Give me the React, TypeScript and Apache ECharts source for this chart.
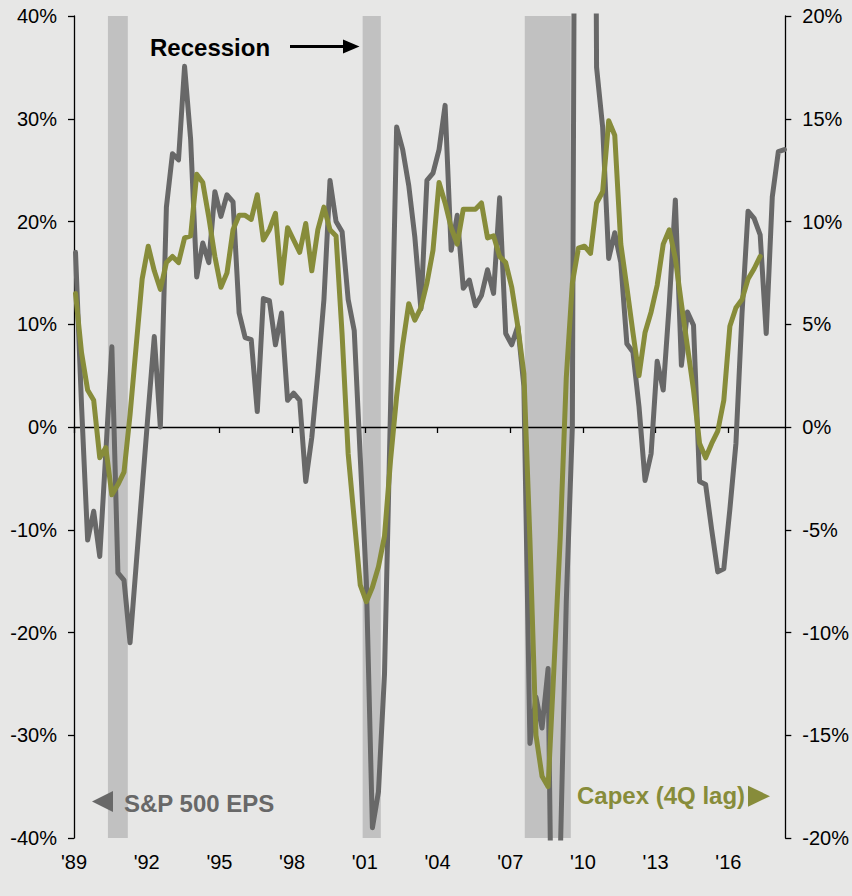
import React, { useEffect, useRef } from 'react';
import * as echarts from 'echarts';

// ---------- data ----------
const START_YEAR = 1989.0625; // first quarterly observation (position on the year axis)
const QUARTER = 0.25;

// S&P 500 EPS, y/y % (left axis) — quarterly from 1989
const epsGrowth = [
  17.0, 2, -11.0, -8.2, -12.6, -2.5, 7.8, -14.2, -14.9, -21,
  -13.5, -6, 1.5, 8.8, 0, 21.4, 26.6, 26, 35.1, 28,
  14.6, 17.9, 16, 22.9, 20.5, 22.6, 21.9, 11.1, 8.7, 8.5,
  1.5, 12.5, 12.3, 8, 11.1, 2.6, 3.3, 2.6, -5.3, -1,
  5.3, 12.4, 24, 20, 19, 12.4, 9.4, -3, -15, -39,
  -35.5, -24, 2, 29.2, 27, 23.5, 18.5, 11.5, 24, 24.7,
  27, 31.3, 17.2, 20.6, 13.5, 14.3, 11.8, 12.8, 15.3, 13,
  22.3, 9.1, 8, 9.8, 4, -30.8, -26.3, -29.3, -23.5, -70,
  -42, -17, 0, 150, 200, 150, 35, 29.2, 16.4, 18.9,
  16, 8.1, 7.3, 2, -5.2, -2.6, 6.4, 3.6, 12, 22.1,
  6, 11.2, 9.9, -5.3, -5.6, -10, -14.1, -13.8, -8, -1.6,
  11, 21, 20.3, 18.7, 9.1, 22.4, 26.8, 27,
];

// Capex, y/y % with 4-quarter lag (right axis)
const capexGrowth = [
  6.5, 3.6, 1.8, 1.3, -1.5, -1.0, -3.3, -2.8, -2.2, 0.6,
  3.9, 7.2, 8.8, 7.6, 6.7, 8.0, 8.3, 8.0, 9.2, 9.3,
  12.3, 11.9, 10.2, 8.3, 6.8, 7.5, 9.6, 10.3, 10.3, 10.1,
  11.3, 9.1, 9.6, 10.4, 7.0, 9.7, 9.1, 8.5, 9.9, 7.6,
  9.6, 10.7, 9.6, 9.3, 4.5, -1.3, -4.5, -7.7, -8.5, -7.8,
  -6.8, -5.3, -1.6, 1.5, 4, 6.0, 5.2, 5.8, 7.0, 8.6,
  11.9, 10.9, 9.7, 8.9, 10.6, 10.6, 10.6, 10.9, 9.2, 9.3,
  8.3, 8.0, 6.8, 4.9, 2.6, -5.5, -15, -17, -17.5, -11.5,
  -5.4, 2.4, 7.0, 8.7, 8.8, 8.45, 10.9, 11.45, 14.9, 14.2,
  8.9, 6.8, 4.6, 2.5, 4.6, 5.6, 6.9, 8.9, 9.6, 8.2,
  6.0, 3.9, 1.8, -0.8, -1.5, -0.8, -0.2, 1.3, 4.9, 5.8,
  6.2, 7.2, 7.7, 8.3,
];

// recession periods (start, end) in years
const recessions = [
  [1990.4, 1991.22],
  [2000.91, 2001.66],
  [2007.6, 2009.5],
];

const xTickYears = [1989, 1992, 1995, 1998, 2001, 2004, 2007, 2010, 2013, 2016];
const leftTicks = { min: -40, max: 40, step: 10 };
const rightTicks = { min: -20, max: 20, step: 5 };
const X_MIN = 1989;
const X_MAX = 2018.35;

// ---------- styles ----------
const BG = '#e7e7e6';
const GRAY = '#686868';
const OLIVE = '#878c3a';
const BAND = '#c1c1c1';
const FONT = '"Liberation Sans", Arial, Helvetica, sans-serif';

export default function App() {
  const ref = useRef<HTMLDivElement>(null);

  useEffect(() => {
    document.body.style.margin = '0';
    document.body.style.background = BG;
    if (!ref.current) return;
    const chart = echarts.init(ref.current, null, { renderer: 'svg' });

    const epsData = epsGrowth.map((v, i) => [START_YEAR + i * QUARTER, v]);
    const capexData = capexGrowth.map((v, i) => [START_YEAR + i * QUARTER, v]);

    const option: any = {
      animation: false,
      backgroundColor: BG,
      textStyle: { fontFamily: FONT },
      grid: { left: 74, right: 65, top: 16, bottom: 58, containLabel: false },
      xAxis: [
        {
          type: 'value',
          min: X_MIN,
          max: X_MAX,
          z: 2,
          axisLine: { show: true, onZero: true, lineStyle: { color: '#000', width: 1.3 } },
          axisTick: {
            show: true,
            inside: false,
            length: 6,
            customValues: xTickYears,
            lineStyle: { color: '#000', width: 1.3 },
          },
          axisLabel: { show: false },
          splitLine: { show: false },
        },
        {
          type: 'value',
          min: X_MIN,
          max: X_MAX,
          position: 'bottom',
          axisLine: { show: false, onZero: false },
          axisTick: { show: false },
          axisLabel: {
            show: true,
            customValues: xTickYears,
            formatter: (v: number) => "'" + String(Math.round(v)).slice(2),
            fontSize: 20,
            color: '#000',
            fontFamily: FONT,
            margin: 14,
          },
          splitLine: { show: false },
        },
      ],
      yAxis: [
        {
          type: 'value',
          position: 'left',
          min: leftTicks.min,
          max: leftTicks.max,
          interval: leftTicks.step,
          axisLine: { show: true, onZero: false, lineStyle: { color: '#000', width: 1.3 } },
          axisTick: { show: true, length: 6, lineStyle: { color: '#000', width: 1.3 } },
          axisLabel: {
            formatter: (v: number) => v + '%',
            fontSize: 20,
            color: '#000',
            fontFamily: FONT,
            margin: 17,
          },
          splitLine: { show: false },
        },
        {
          type: 'value',
          position: 'right',
          min: rightTicks.min,
          max: rightTicks.max,
          interval: rightTicks.step,
          axisLine: { show: true, onZero: false, lineStyle: { color: '#000', width: 1.3 } },
          axisTick: { show: true, length: 6, lineStyle: { color: '#000', width: 1.3 } },
          axisLabel: {
            formatter: (v: number) => v + '%',
            fontSize: 20,
            color: '#000',
            fontFamily: FONT,
            margin: 17,
          },
          splitLine: { show: false },
        },
      ],
      series: [
        {
          name: 'S&P 500 EPS',
          type: 'line',
          xAxisIndex: 0,
          yAxisIndex: 0,
          z: 3,
          data: epsData,
          showSymbol: false,
          symbol: 'none',
          clip: true,
          lineStyle: { color: GRAY, width: 5, join: 'round', cap: 'round' },
          markArea: {
            silent: true,
            itemStyle: { color: BAND },
            data: recessions.map(([a, b]) => [{ xAxis: a }, { xAxis: b }]),
          },
        },
        {
          name: 'Capex (4Q lag)',
          type: 'line',
          xAxisIndex: 0,
          yAxisIndex: 1,
          z: 4,
          data: capexData,
          showSymbol: false,
          symbol: 'none',
          clip: true,
          lineStyle: { color: OLIVE, width: 5, join: 'round', cap: 'round' },
        },
      ],
      graphic: [
        {
          type: 'text',
          x: 150,
          y: 47.5,
          z: 10,
          style: {
            text: 'Recession',
            fill: '#000',
            fontSize: 24,
            fontWeight: 'bold',
            fontFamily: FONT,
            verticalAlign: 'middle',
          },
        },
        {
          type: 'line',
          z: 10,
          shape: { x1: 290, y1: 46.5, x2: 346, y2: 46.5 },
          style: { stroke: '#000', lineWidth: 3 },
        },
        {
          type: 'polygon',
          z: 10,
          shape: { points: [[343, 39.5], [359.5, 46.5], [343, 53.5]] },
          style: { fill: '#000' },
        },
        {
          type: 'polygon',
          z: 10,
          shape: { points: [[92, 801.5], [113, 791], [113, 812]] },
          style: { fill: GRAY },
        },
        {
          type: 'text',
          x: 124,
          y: 803.5,
          z: 10,
          style: {
            text: 'S&P 500 EPS',
            fill: GRAY,
            fontSize: 24,
            fontWeight: 'bold',
            fontFamily: FONT,
            verticalAlign: 'middle',
          },
        },
        {
          type: 'text',
          x: 577,
          y: 795.5,
          z: 10,
          style: {
            text: 'Capex (4Q lag)',
            fill: OLIVE,
            fontSize: 24,
            fontWeight: 'bold',
            fontFamily: FONT,
            verticalAlign: 'middle',
          },
        },
        {
          type: 'polygon',
          z: 10,
          shape: { points: [[748, 785.7], [770, 796.2], [748, 806.7]] },
          style: { fill: OLIVE },
        },
      ],
    };

    chart.setOption(option);
    return () => chart.dispose();
  }, []);

  return <div ref={ref} style={{ width: 852, height: 896, background: BG }} />;
}
